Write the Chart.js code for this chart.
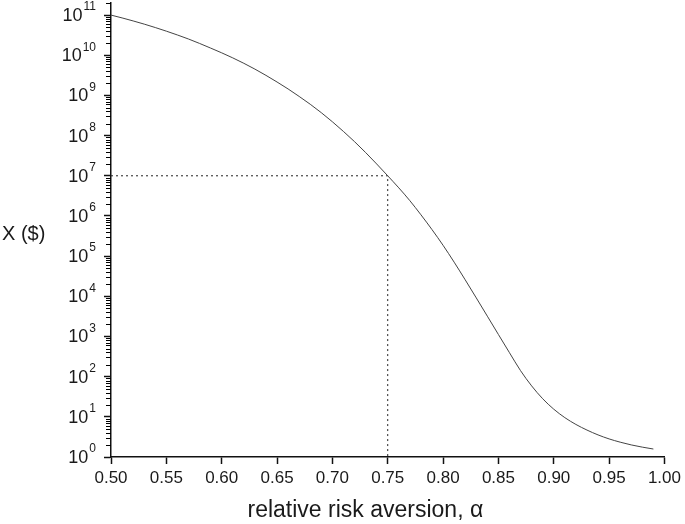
<!DOCTYPE html>
<html lang="en">
<head>
  <meta charset="UTF-8">
  <title>X vs relative risk aversion</title>
  <script src="https://cdn.jsdelivr.net/npm/chart.js"></script>
  <style>
    body {
      margin: 0;
      background-color: #fff;
    }
    .chart-box {
      width: 685px;
      height: 524px;
    }
  </style>
</head>
<body>
  <div class="chart-box">
    <canvas id="chart"></canvas>
  </div>
  <script>
    // relative risk aversion (x) and X in dollars (y)
    const alpha = [0.50, 0.51, 0.52, 0.53, 0.54, 0.55, 0.56, 0.57, 0.58, 0.59,
                   0.60, 0.61, 0.62, 0.63, 0.64, 0.65, 0.66, 0.67, 0.68, 0.69,
                   0.70, 0.71, 0.72, 0.73, 0.74, 0.75, 0.76, 0.77, 0.78, 0.79,
                   0.80, 0.81, 0.82, 0.83, 0.84, 0.85, 0.86, 0.87, 0.88, 0.89,
                   0.90, 0.91, 0.92, 0.93, 0.94, 0.95, 0.96, 0.97, 0.98, 0.99];
    const wealth = [1.00e11, 8.51e10, 7.16e10, 5.96e10, 4.90e10, 3.98e10, 3.20e10, 2.54e10, 1.97e10, 1.51e10,
                    1.15e10, 8.61e9, 6.31e9, 4.52e9, 3.16e9, 2.16e9, 1.45e9, 9.44e8, 6.03e8, 3.72e8,
                    2.21e8, 1.27e8, 7.08e7, 3.80e7, 1.97e7, 1.00e7, 5.01e6, 2.40e6, 1.07e6, 4.57e5,
                    1.86e5, 7.08e4, 2.57e4, 9.12e3, 3.20e3, 1.12e3, 394, 141, 58.9, 28.2,
                    15.5, 9.55, 6.46, 4.68, 3.55, 2.82, 2.34, 2.00, 1.76, 1.58];

    // dotted guide at alpha = 0.75, X = 10^7
    const refAlpha = 0.75;
    const refWealth = 1e7;

    // axis ranges and log tick exponents
    const xMin = 0.5, xMax = 1.0, xStep = 0.05;
    const yMin = 1, yMax = 2e11;
    const yExponents = [0, 1, 2, 3, 4, 5, 6, 7, 8, 9, 10, 11];

    const ink = '#1a1a1a';
    const fontFamily = '"Liberation Sans", Arial, sans-serif';

    // minor log ticks, superscript labels and the horizontal y title
    const axisDecor = {
      id: 'axisDecor',
      afterDraw(chart) {
        const { ctx, chartArea } = chart;
        const y = chart.scales.y;
        const left = chartArea.left;
        ctx.save();
        ctx.strokeStyle = '#000';
        ctx.lineWidth = 1.2;
        ctx.setLineDash([]);
        ctx.beginPath();
        yExponents.forEach(n => {
          for (let k = 2; k <= 9; k++) {
            const v = k * Math.pow(10, n);
            if (v > yMax) break;
            const py = Math.round(y.getPixelForValue(v)) + 0.5;
            ctx.moveTo(left - 5, py);
            ctx.lineTo(left, py);
          }
        });
        ctx.stroke();

        ctx.fillStyle = ink;
        ctx.textBaseline = 'middle';
        ctx.textAlign = 'right';
        const labelRight = left - 15;
        yExponents.forEach(n => {
          const py = y.getPixelForValue(Math.pow(10, n));
          ctx.font = '12px ' + fontFamily;
          const exp = String(n);
          const expW = ctx.measureText(exp).width;
          ctx.fillText(exp, labelRight, py - 8);
          ctx.font = '18px ' + fontFamily;
          ctx.fillText('10', labelRight - expW - 1, py + 1);
        });

        ctx.textAlign = 'left';
        ctx.font = '20px ' + fontFamily;
        ctx.fillText('X ($)', 2, 234);
        ctx.restore();
      }
    };

    const curve = alpha.map((a, i) => ({ x: a, y: wealth[i] }));
    const guide = [
      { x: xMin, y: refWealth },
      { x: refAlpha, y: refWealth },
      { x: refAlpha, y: yMin }
    ];

    new Chart(document.getElementById('chart'), {
      type: 'line',
      data: {
        datasets: [{
          data: curve,
          borderColor: '#444',
          borderWidth: 1,
          pointRadius: 0,
          cubicInterpolationMode: 'monotone'
        }, {
          data: guide,
          borderColor: '#222',
          borderWidth: 1,
          borderDash: [2, 3],
          pointRadius: 0,
          tension: 0
        }]
      },
      options: {
        responsive: true,
        maintainAspectRatio: false,
        animation: false,
        layout: { padding: { top: 3, right: 17, left: 0, bottom: 0 } },
        plugins: {
          legend: { display: false },
          tooltip: { enabled: false }
        },
        scales: {
          x: {
            type: 'linear',
            min: xMin,
            max: xMax,
            grid: { drawOnChartArea: false, tickLength: 7, tickColor: '#111', tickWidth: 1.5 },
            border: { color: '#111', width: 1.5 },
            ticks: {
              stepSize: xStep,
              color: ink,
              padding: 4,
              font: { size: 17, family: fontFamily },
              callback: v => Number(v).toFixed(2),
              maxRotation: 0
            },
            title: {
              display: true,
              // trailing spaces nudge the centred title left, as in the original
              text: 'relative risk aversion, \u03b1       ',
              color: ink,
              font: { size: 23, family: fontFamily },
              padding: { top: 6, bottom: 0 }
            },
            afterFit: scale => { scale.height = 67; }
          },
          y: {
            type: 'logarithmic',
            min: yMin,
            max: yMax,
            grid: { drawOnChartArea: false, tickLength: 7, tickColor: '#111', tickWidth: 1.5 },
            border: { color: '#111', width: 1.5 },
            ticks: { display: false },
            afterBuildTicks: scale => {
              scale.ticks = yExponents.map(n => ({ value: Math.pow(10, n) }));
            },
            afterFit: scale => { scale.width = 111; }
          }
        }
      },
      plugins: [axisDecor]
    });
  </script>
</body>
</html>
